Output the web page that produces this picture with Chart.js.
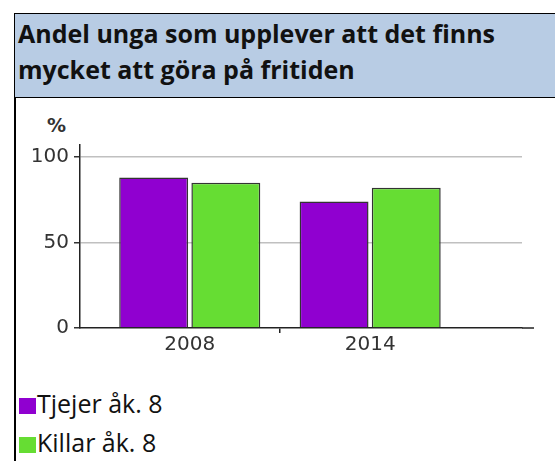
<!DOCTYPE html>
<html>
<head>
<meta charset="utf-8">
<script src="https://cdn.jsdelivr.net/npm/chart.js@4/dist/chart.umd.min.js"></script>
<style>
  body { margin: 0; width: 555px; height: 461px; overflow: hidden; background: #fff; position: relative; }
  #frame { position: absolute; left: 14px; top: 13px; width: 600px; height: 460px; border-left: 2px solid #000; }
  #head { position: absolute; left: 14px; top: 13px; width: 600px; height: 85px; background: #b8cce4;
          border: 1.5px solid #000; font: bold 25px "Open Sans", sans-serif; line-height: 36px;
          padding: 1px 0 0 3px; box-sizing: border-box; color: #111; }
  #pct { position: absolute; left: 47px; top: 114px; font: bold 19px "DejaVu Sans", sans-serif; color: #333; }
  #chartBox { position: absolute; left: 0; top: 110px; width: 555px; height: 260px; }
  #legend { position: absolute; left: 19px; top: 388px; font: 25px "Open Sans", sans-serif; color: #111; }
  #legend div { height: 39px; line-height: 30px; white-space: nowrap; }
  #legend span { display: inline-block; width: 17px; height: 16px; margin-right: 1px; vertical-align: -1px; }
</style>
</head>
<body>
<div id="frame"></div>
<div id="head">Andel unga som upplever att det finns<br>mycket att göra på fritiden</div>
<div id="pct">%</div>
<div id="chartBox"><canvas id="chart" width="555" height="260"></canvas></div>
<div id="legend"></div>
<script>
// Data
const years = [2008, 2014];
const seriesNames = ['Tjejer åk. 8', 'Killar åk. 8'];
const tjejer = [88, 74];
const killar = [85, 82];
const yTicks = [0, 50, 100];

const seriesColors = ['#9000d0', '#66dd33'];

// Legend below the chart
const legend = document.getElementById('legend');
seriesNames.forEach((name, i) => {
  const row = document.createElement('div');
  const box = document.createElement('span');
  box.style.background = seriesColors[i];
  row.appendChild(box);
  row.appendChild(document.createTextNode(name));
  legend.appendChild(row);
});

const toPoints = vals => years.map((y, i) => ({ x: y, y: vals[i] }));

// axis line runs a little past the last grid line
const axisExtend = {
  id: 'axisExtend',
  afterDraw(chart) {
    const { ctx, chartArea } = chart;
    ctx.save();
    ctx.strokeStyle = '#222';
    ctx.lineWidth = 1.5;
    ctx.beginPath();
    ctx.moveTo(chartArea.right, chartArea.bottom);
    ctx.lineTo(chartArea.right + 12, chartArea.bottom);
    ctx.stroke();
    ctx.restore();
  },
};

const ctx = document.getElementById('chart').getContext('2d');
const chart = new Chart(ctx, {
  type: 'bar',
  data: {
    datasets: [
      {
        label: seriesNames[0],
        data: toPoints(tjejer),
        backgroundColor: seriesColors[0],
        borderColor: '#333',
        borderWidth: 1.5,
      },
      {
        label: seriesNames[1],
        data: toPoints(killar),
        backgroundColor: seriesColors[1],
        borderColor: '#333',
        borderWidth: 1.5,
      },
    ],
  },
  plugins: [axisExtend],
  options: {
    responsive: false,
    animation: false,
    categoryPercentage: 0.8,
    barPercentage: 0.955,
    layout: { padding: { top: 35, right: 33, bottom: 0, left: 0 } },
    plugins: { legend: { display: false }, tooltip: { enabled: false } },
    scales: {
      x: {
        type: 'linear',
        offset: false,
        bounds: 'data',
        min: 2004.35,
        max: 2019.05,
        afterBuildTicks: s => { s.ticks = years.map(v => ({ value: v })); },
        afterFit: s => { s.height = 42; },
        ticks: {
          callback: v => String(v),
          font: { family: 'DejaVu Sans', size: 20 },
          color: '#333',
          padding: 0,
          maxRotation: 0,
          autoSkip: false,
        },
        grid: {
          offset: true,
          drawOnChartArea: false,
          tickLength: 5,
          lineWidth: 1.5,
          // only the mark between the two years is shown
          tickColor: c => (c.index === 1 ? '#222' : 'transparent'),
        },
        border: { color: '#222', width: 1.5 },
      },
      y: {
        min: 0,
        max: 107,
        afterBuildTicks: s => { s.ticks = yTicks.map(v => ({ value: v })); },
        afterFit: s => { s.width = 80; },
        ticks: {
          font: { family: 'DejaVu Sans', size: 20 },
          color: '#333',
          padding: 5,
        },
        grid: {
          color: c => (c.tick && c.tick.value === 0 ? 'transparent' : '#c0c0c0'),
          lineWidth: 1.5,
          tickLength: 6,
          tickColor: '#333',
        },
        border: { color: '#222', width: 1.5 },
      },
    },
  },
});
</script>
</body>
</html>
